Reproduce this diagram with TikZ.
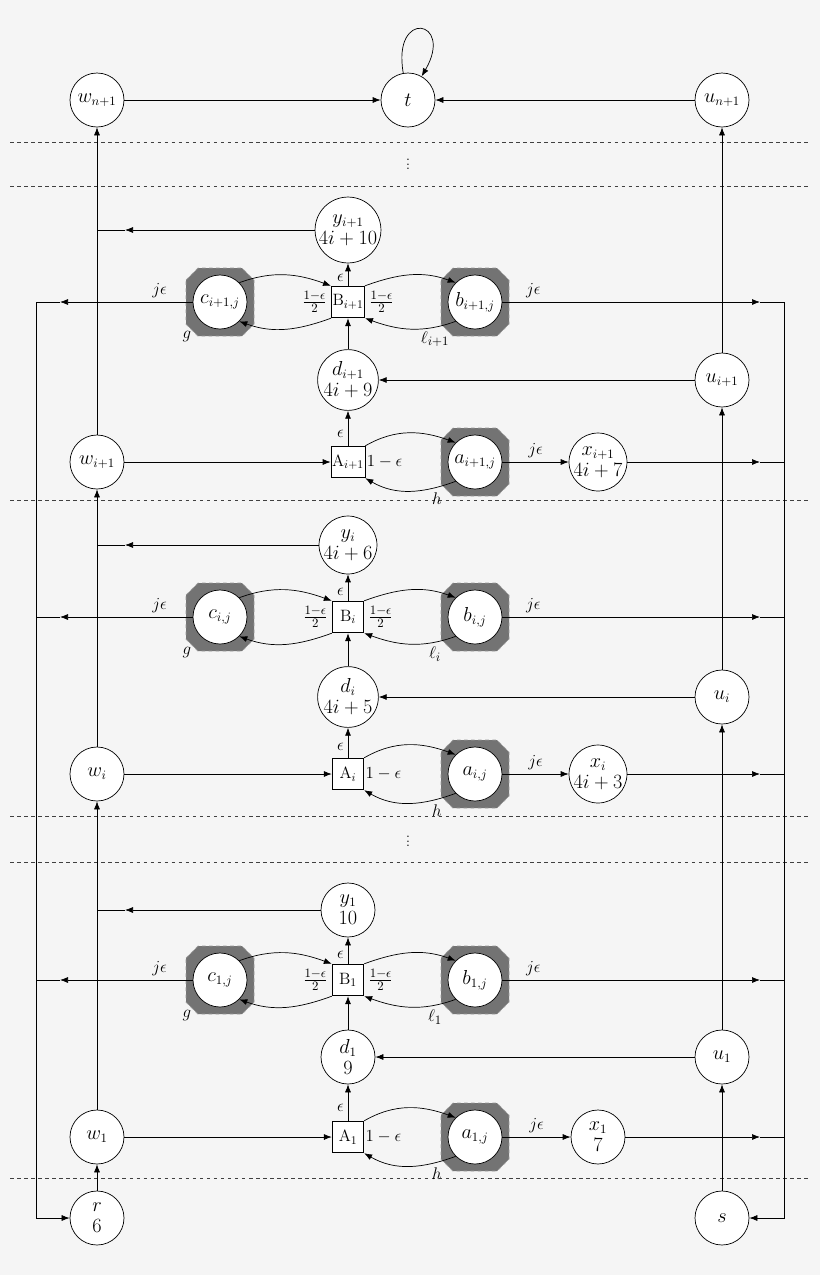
\documentclass[tikz,border=0pt]{standalone}
\usetikzlibrary{arrows.meta}
\newcommand{\myocta}[2]{\filldraw[fill=black!55,draw=black!40,dashed] ({#1-34},{#2-22}) -- ({#1-22},{#2-34}) -- ({#1+22},{#2-34}) -- ({#1+34},{#2-22}) -- ({#1+34},{#2+22}) -- ({#1+22},{#2+34}) -- ({#1-22},{#2+34}) -- ({#1-34},{#2+22}) -- cycle;}
\begin{document}
\begin{tikzpicture}[x=0.03cm,y=-0.03cm,line width=0.6pt,
  font=\fontsize{16}{18}\selectfont,
  st/.style={circle,draw,fill=white,minimum size=1.62cm,inner sep=0pt,align=center},
  gad/.style={rectangle,draw,fill=white,minimum size=0.95cm,inner sep=1pt,font=\fontsize{14}{15}\selectfont},
  ar/.style={-{Latex[length=2.4mm,width=1.8mm]}},
  lab/.style={font=\fontsize{15}{16}\selectfont},
  dl/.style={dashed,black!75}]
\fill[black!4] (0,0) rectangle (820,1275);
\useasboundingbox (0,0) rectangle (820,1275);
% dashed separators
\foreach \yy in {142,186,500,816,862,1178} \draw[dl] (10,\yy) -- (810,\yy);
\node[lab] at (408,161) {$\vdots$};
\node[lab] at (408,838) {$\vdots$};
% top
\node[st] (wn) at (97,100) {$w_{n+1}$};
\node[st] (t) at (408,100) {$t$};
\node[st] (un) at (722,100) {$u_{n+1}$};
\draw[ar] (wn) -- (t);
\draw[ar] (un) -- (t);
\draw[ar] (t.100) to[out=100,in=60,looseness=9] (t.60);
% bottom
\node[st] (r) at (97,1218) {$r$\\$6$};
\node[st] (s) at (722,1218) {$s$};
% blocks
\foreach \k/\yy/\yb/\yd/\ya/\s/\Y/\D/\X in
  {3/230/302/380/462/{i+1}/{4i+10}/{4i+9}/{4i+7},
   2/545/617/697/774/{i}/{4i+6}/{4i+5}/{4i+3},
   1/910/980/1057/1137/{1}/{10}/{9}/{7}}{
  \myocta{220}{\yb}
  \myocta{475}{\yb}
  \myocta{475}{\ya}
  \node[st] (y\k) at (348,\yy) {$y_{\s}$\\$\Y$};
  \node[gad] (B\k) at (348,\yb) {B$_{\s}$};
  \node[st] (c\k) at (220,\yb) {$c_{\s,j}$};
  \node[st] (b\k) at (475,\yb) {$b_{\s,j}$};
  \node[st] (d\k) at (348,\yd) {$d_{\s}$\\$\D$};
  \node[gad] (A\k) at (348,\ya) {A$_{\s}$};
  \node[st] (a\k) at (475,\ya) {$a_{\s,j}$};
  \node[st] (x\k) at (598,\ya) {$x_{\s}$\\$\X$};
  \node[st] (w\k) at (97,\ya) {$w_{\s}$};
  \node[st] (u\k) at (722,\yd) {$u_{\s}$};
  \node[lab] at (187,\yb+35) {$g$};
  \node[lab] at (435,\yb+37) {$\ell_{\s}$};
  \node[lab] at (437,\ya+37) {$h$};
  % gadget edges
  \draw[ar] (A\k) -- node[lab,left,pos=0.35]{$\epsilon$} (d\k);
  \draw[ar] (d\k) -- (B\k);
  \draw[ar] (B\k) -- node[lab,left,pos=0.35]{$\epsilon$} (y\k);
  \draw[ar] (A\k.north east) to[out=30,in=160] (a\k.north west);
  \draw[ar] (a\k.south west) to[out=200,in=-30] (A\k.south east);
  \node[lab,right,inner sep=1pt] at (A\k.east) {$1-\epsilon$};
  \draw[ar] (c\k.north east) to[out=20,in=160] (B\k.north west);
  \draw[ar] (B\k.south west) to[out=200,in=-20] (c\k.south east);
  \node[lab,left] at (B\k.west) {$\frac{1-\epsilon}{2}$};
  \draw[ar] (B\k.north east) to[out=20,in=160] (b\k.north west);
  \draw[ar] (b\k.south west) to[out=200,in=-20] (B\k.south east);
  \node[lab,right] at (B\k.east) {$\frac{1-\epsilon}{2}$};
  \draw[ar] (a\k) -- node[lab,above]{$j\epsilon$} (x\k);
  \draw[ar] (w\k) -- (A\k);
  \draw[ar] (u\k) -- (d\k);
  % to left line
  \coordinate (cl\k) at (60,\yb);
  \draw[ar] (c\k) -- node[lab,above,pos=0.25]{$j\epsilon$} (cl\k);
  \draw (cl\k) -- (36,\yb);
  % to right line
  \coordinate (br\k) at (760,\yb);
  \draw[ar] (b\k) -- node[lab,above,pos=0.12]{$j\epsilon$} (br\k);
  \draw (br\k) -- (784,\yb);
  \coordinate (xr\k) at (760,\ya);
  \draw[ar] (x\k) -- (xr\k);
  \draw (xr\k) -- (784,\ya);
  % y to w column
  \coordinate (yl\k) at (125,\yy);
  \draw[ar] (y\k) -- (yl\k);
  \draw (yl\k) -- (97,\yy);
}
% columns
\draw[ar] (r) -- (w1);
\draw[ar] (w1) -- (w2);
\draw[ar] (w2) -- (w3);
\draw[ar] (w3) -- (wn);
\draw[ar] (s) -- (u1);
\draw[ar] (u1) -- (u2);
\draw[ar] (u2) -- (u3);
\draw[ar] (u3) -- (un);
\draw[ar] (36,302) -- (36,1218) -- (r);
\draw[ar] (784,302) -- (784,1218) -- (s);
\end{tikzpicture}
\end{document}
